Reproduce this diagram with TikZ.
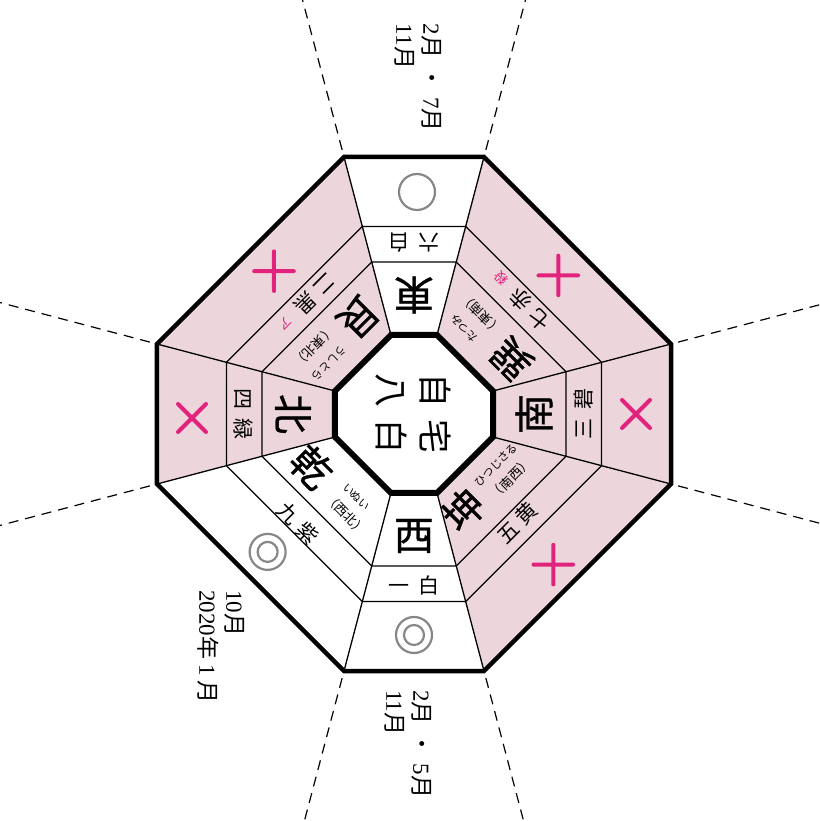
\documentclass[tikz,border=0pt]{standalone}
\usepackage{fontspec}
\setmainfont{Liberation Serif}
\newfontfamily\jp{Noto Sans CJK JP}
\newfontfamily\jpheavy[FakeBold=0.8]{Noto Sans CJK JP}
\usetikzlibrary{calc}
\definecolor{pinkfill}{RGB}{236,213,219}
\definecolor{mag}{RGB}{225,35,125}
\definecolor{symgray}{RGB}{135,135,135}
\tikzset{
  dirname/.style={font=\jpheavy\fontsize{40}{40}\selectfont, inner sep=0pt},
  starname/.style={font=\jp\fontsize{21}{21}\selectfont, inner sep=0pt},
  furi/.style={font=\jp\fontsize{11}{11}\selectfont, inner sep=0pt},
  paren/.style={font=\jp\fontsize{13}{13}\selectfont, inner sep=0pt},
  markred/.style={font=\jp\fontsize{13}{13}\selectfont, inner sep=0pt, text=mag},
  crossline/.style={draw=mag, line width=4pt, line cap=round},
  circsym/.style={draw=symgray, line width=2.2pt},
  month/.style={font=\fontsize{23}{27}\selectfont, inner sep=0pt, align=left, rotate=-90},
  thinrule/.style={line width=1.3pt},
  outerrule/.style={line width=4.5pt, line join=miter},
  innerrule/.style={line width=6pt, line join=miter},
  radialdash/.style={line width=1.2pt, dash pattern=on 10pt off 7pt},
}
\begin{document}
\begin{tikzpicture}[x=1pt,y=1pt]
\useasboundingbox (-414,-407) rectangle (405,414);
\clip (-414,-407) rectangle (405,414);
% vertices
\foreach \k/\x/\y in {1/257/70,2/70/257,3/-70/257,4/-257/70,5/-257/-70,6/-70/-257,7/70/-257,8/257/-70}
  {\coordinate (O\k) at (\x,\y);}
\foreach \k/\x/\y in {1/79/23,2/23/79,3/-23/79,4/-79/23,5/-79/-23,6/-23/-79,7/23/-79,8/79/-23}
  {\coordinate (I\k) at (\x,\y);}
\foreach \k in {1,...,8}{
  \coordinate (A\k) at ($(I\k)!0.41!(O\k)$);
  \coordinate (B\k) at ($(I\k)!0.61!(O\k)$);
  \coordinate (E\k) at ($(I\k)!1.04!(O\k)$);
  \coordinate (F\k) at ($(I\k)!2.4!(O\k)$);
}
% pink sectors
\foreach \a/\b in {8/1,1/2,3/4,4/5,7/8}
  {\fill[pinkfill] (I\a)--(O\a)--(O\b)--(I\b)--cycle;}
% rules
\foreach \k in {1,...,8} {\draw[thinrule] (I\k)--(O\k);}
\draw[thinrule] (A1)--(A2)--(A3)--(A4)--(A5)--(A6)--(A7)--(A8)--cycle;
\draw[thinrule] (B1)--(B2)--(B3)--(B4)--(B5)--(B6)--(B7)--(B8)--cycle;
\draw[outerrule] (O1)--(O2)--(O3)--(O4)--(O5)--(O6)--(O7)--(O8)--cycle;
\draw[innerrule, fill=white] (I1)--(I2)--(I3)--(I4)--(I5)--(I6)--(I7)--(I8)--cycle;
\foreach \k in {1,...,8} {\draw[radialdash] (E\k)--(F\k);}

% right (south)
\begin{scope}[rotate=0]
  \node[dirname, rotate=90] (s-dir) at (120,0) {南};
  \node[starname, rotate=90] (s-star) at (170,0) {三\hspace{10pt}碧};
  \coordinate (s-sym) at (222,0);
  \draw[crossline] ($(s-sym)+(-14,-14)$) -- ($(s-sym)+(14,14)$);
  \draw[crossline] ($(s-sym)+(-14,14)$) -- ($(s-sym)+(14,-14)$);
\end{scope}
% top-right (southeast)
\begin{scope}[rotate=45]
  \node[dirname, rotate=135] (se-dir) at (108,-30) {巽};
  \node[furi, rotate=135] (se-furi) at (96,25) {たつみ};
  \node[paren, rotate=135] (se-paren) at (118,23) {（東南）};
  \node[starname, rotate=135] (se-star) at (156,-8) {七\hspace{7pt}赤};
  \node[markred, rotate=135] (se-mark) at (158,34) {殺};
  \coordinate (se-sym) at (200,-4);
  \draw[crossline] ($(se-sym)+(-14,-14)$) -- ($(se-sym)+(14,14)$);
  \draw[crossline] ($(se-sym)+(-14,14)$) -- ($(se-sym)+(14,-14)$);
\end{scope}
% top (east)
\begin{scope}[rotate=90]
  \node[dirname, rotate=180] (e-dir) at (119,0) {東};
  \node[starname, rotate=180] (e-star) at (171,0) {六\hspace{9pt}白};
  \draw[circsym] (222,-3) circle (18);
\end{scope}
% top-left (northeast)
\begin{scope}[rotate=135]
  \node[dirname, rotate=225] (ne-dir) at (108,-29) {艮};
  \node[furi, rotate=225] (ne-furi) at (96,24) {うしとら};
  \node[paren, rotate=225] (ne-paren) at (118,23) {（東北）};
  \node[starname, rotate=225] (ne-star) at (155,-15) {二\hspace{5pt}黒};
  \node[markred, rotate=225] (ne-mark) at (155,27) {ア};
  \coordinate (ne-sym) at (200,-2);
  \draw[crossline] ($(ne-sym)+(-14,-14)$) -- ($(ne-sym)+(14,14)$);
  \draw[crossline] ($(ne-sym)+(-14,14)$) -- ($(ne-sym)+(14,-14)$);
\end{scope}
% left (north)
\begin{scope}[rotate=180]
  \node[dirname, rotate=270] (n-dir) at (121,0) {北};
  \node[starname, rotate=270] (n-star) at (171,0) {四\hspace{9pt}緑};
  \coordinate (n-sym) at (222,4);
  \draw[crossline] ($(n-sym)+(-14,-14)$) -- ($(n-sym)+(14,14)$);
  \draw[crossline] ($(n-sym)+(-14,14)$) -- ($(n-sym)+(14,-14)$);
\end{scope}
% bottom-left (northwest)
\begin{scope}[rotate=225]
  \node[dirname, rotate=315] (nw-dir) at (110,-35) {乾};
  \node[furi, rotate=315] (nw-furi) at (99,18) {いぬい};
  \node[paren, rotate=315] (nw-paren) at (119,23) {（西北）};
  \node[starname, rotate=315] (nw-star) at (159,-5) {九\hspace{7pt}紫};
  \draw[circsym] (201,-6) circle (18);
  \draw[circsym] (201,-6) circle (10);
\end{scope}
% bottom (west)
\begin{scope}[rotate=270]
  \node[dirname, rotate=0] (w-dir) at (122,0) {西};
  \node[starname, rotate=0] (w-star) at (171,0) {一\hspace{10pt}白};
  \draw[circsym] (221,0) circle (18);
  \draw[circsym] (221,0) circle (10);
\end{scope}
% bottom-right (southwest)
\begin{scope}[rotate=315]
  \node[dirname, rotate=45] (sw-dir) at (103,-33) {坤};
  \node[furi, rotate=45] (sw-furi) at (94,22) {ひつじさる};
  \node[paren, rotate=45] (sw-paren) at (114,23) {（南西）};
  \node[starname, rotate=45] (sw-star) at (150,-4) {五\hspace{5pt}黄};
  \coordinate (sw-sym) at (205,-8);
  \draw[crossline] ($(sw-sym)+(-14,-14)$) -- ($(sw-sym)+(14,14)$);
  \draw[crossline] ($(sw-sym)+(-14,14)$) -- ($(sw-sym)+(14,-14)$);
\end{scope}
% centre
\node[rotate=-90, font=\jp\fontsize{34}{44}\selectfont, align=left, inner sep=0pt] (centre) at (-1,0) {自\hspace{12pt}宅\\八\hspace{12pt}白};
% months
\node[month] (m-top) at (4,336) {2{\jp 月}\hspace{8pt}{\jp ・}\hspace{8pt}7{\jp 月}\\11{\jp 月}};
\node[month] (m-bot) at (-6,-330) {2{\jp 月}\hspace{8pt}{\jp ・}\hspace{8pt}5{\jp 月}\\11{\jp 月}};
\node[month] (m-left) at (-193,-233) {10{\jp 月}\\2020{\jp 年}\hspace{5pt}1\hspace{5pt}{\jp 月}};
\end{tikzpicture}
\end{document}
